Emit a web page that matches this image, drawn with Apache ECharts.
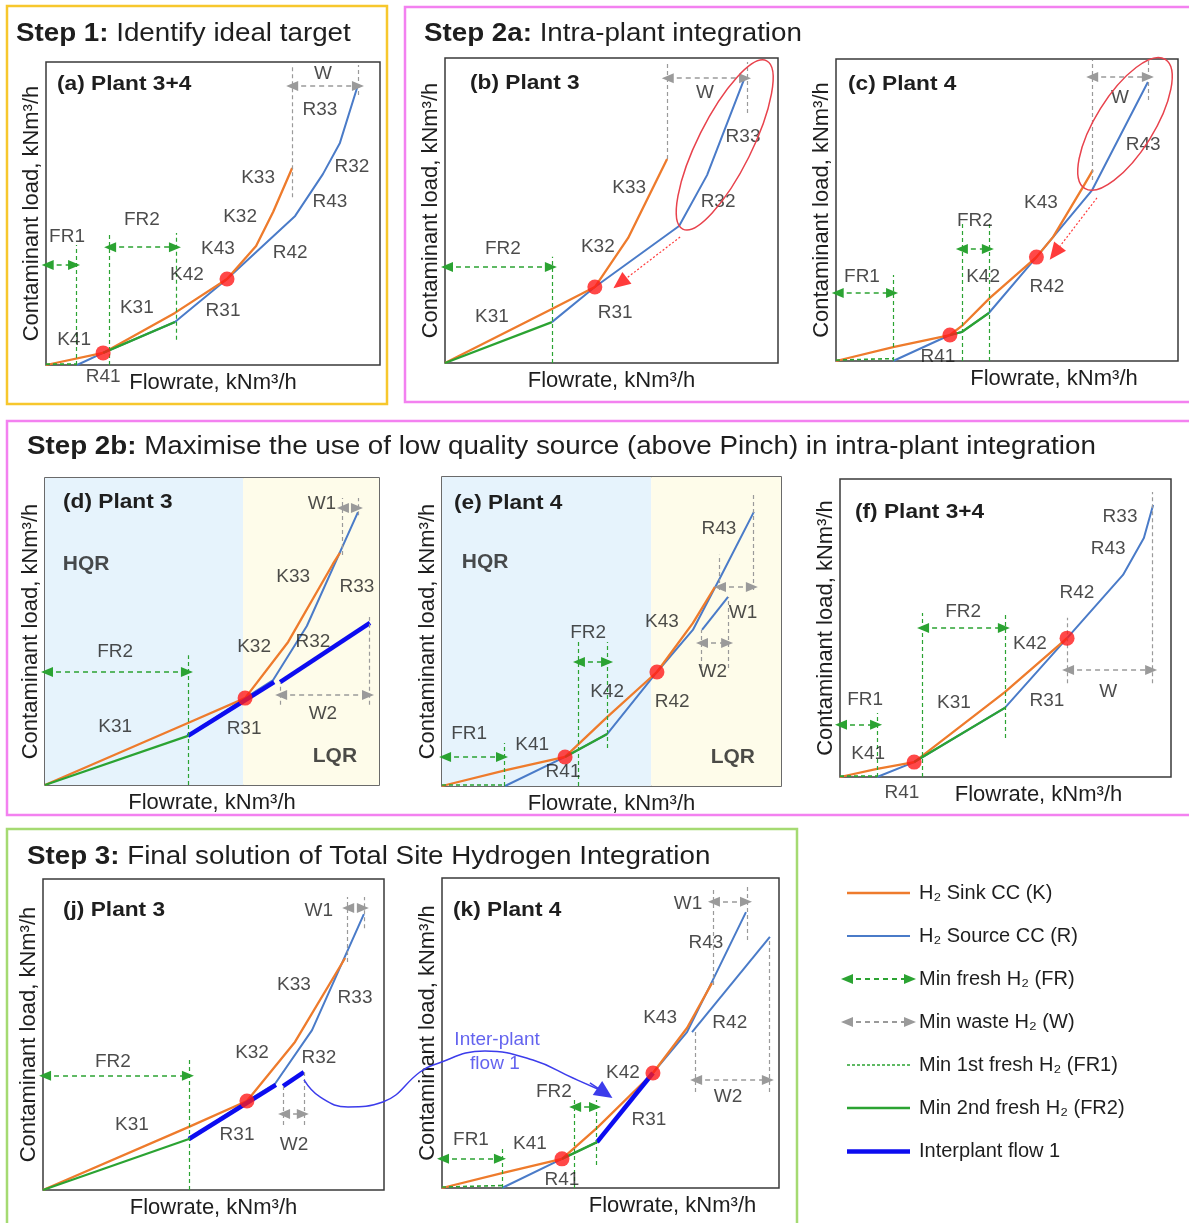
<!DOCTYPE html>
<html><head><meta charset="utf-8">
<script src="https://cdn.jsdelivr.net/npm/echarts@6/dist/echarts.min.js"></script>
<style>html,body{margin:0;padding:0;background:#fff}#main{width:1189px;height:1223px}</style>
</head><body><div id="main"></div>
<script>
// ---------------- DATA (axis units: 0-100 flowrate / contaminant load) ----------------
// Panel (a) Plant 3+4
const aSink = [[0,0],[17.1,4.0],[38.6,17.2],[54.2,28.4],[62.9,39.3],[68.0,50.5],[73.7,65.0]];
const aSource = [[9.3,0],[17.1,4.0],[38.6,14.2],[54.2,28.4],[74.6,49.2],[82.9,63.0],[88.0,73.3],[93.4,92.4]];
const aFR2 = [[17.1,4.0],[38.6,14.2]];
const aFR1 = [[0,0.3],[9.3,0.3]];
const aPinch = [[17.1,4.0],[54.2,28.4]];
const aFreshLines = [[9.0,0,39.6],[18.9,0,43.6],[38.9,8.3,43.6]];
const aFreshArrows = [[0.5,8.4,33.0],[19.2,38.6,38.9]];
const aWasteLines = [[73.7,55.4,99],[93.4,89.1,99]];
const aWasteArrows = [[73.7,93.4,92.1]];
const aLabels = [['K41',8.4,8.3],['R41',17.1,-4.0],['K31',27.2,18.8],['K42',42.2,29.7],['K43',51.5,38.3],['K32',58.1,48.8],['K33',63.5,61.7],['R31',53.0,17.8],['R42',73.1,37.0],['R43',85.0,53.8],['R32',91.6,65.3],['R33',82.0,84.2],['FR1',6.3,42.2],['FR2',28.7,47.9],['W',82.9,96.0]];
// Panel (b) Plant 3
const bSink = [[0,0],[32.1,17.7],[45.0,24.9],[55.0,41.0],[66.7,66.9]];
const bSource = [[32.1,13.4],[45.0,24.9],[70.3,44.9],[78.7,61.6],[90.1,93.8]];
const bFR2 = [[0,0],[32.1,13.4]];
const bPinch = [[45.0,24.9]];
const bFreshLines = [[32.1,0,34.8]];
const bFreshArrows = [[0.6,31.8,31.5]];
const bWasteLines = [[66.7,66.9,98.7],[90.7,82.0,98.7]];
const bWasteArrows = [[66.9,90.1,93.4]];
const bShift = [[70.6,41.3,52.6,26.2]];
const bEllipse = [84.0,71.5];
const bLabels = [['K31',14.1,15.1],['R31',51.1,16.4],['K32',45.9,38.0],['K33',55.3,57.4],['R32',82.0,52.8],['R33',89.5,74.1],['W',78.1,88.5],['FR2',17.4,37.4]];
// Panel (c) Plant 4
const cSink = [[0,0],[16.7,4.6],[33.3,8.6],[37.1,11.9],[45.0,20.9],[58.6,34.4],[63.5,41.1],[72.2,57.6],[75.1,63.2]];
const cSource = [[16.7,0],[33.3,8.6],[36.8,9.6],[44.7,15.9],[58.6,34.4],[74.9,56.6],[91.2,92.4]];
const cFR2 = [[33.3,8.6],[36.8,9.6],[44.7,15.9]];
const cFR1 = [[0,0.3],[16.7,0.8]];
const cPinch = [[33.3,8.6],[58.6,34.4]];
const cFreshLines = [[16.7,0,28.5],[36.8,0,45.7],[44.7,0,45.7]];
const cFreshArrows = [[0.5,16.4,22.5],[36.8,44.4,37.1]];
const cWasteLines = [[74.9,59.9,99.7],[91.2,86.4,99.7]];
const cWasteArrows = [[74.9,91.2,94.0]];
const cShift = [[76.3,54.0,64.0,35.8]];
const cEllipse = [84.5,78.5];
const cLabels = [['FR1',7.6,27.8],['FR2',40.6,46.4],['K42',43.0,27.8],['R42',61.7,24.5],['K43',59.9,52.3],['R43',89.8,71.5],['R41',29.8,1.3],['W',83.0,87.1]];
// Panel (d) Plant 3
const dSplit = 59.3;
const dSink = [[0,0],[42.8,20.2],[59.9,28.3],[72.8,46.6],[86.2,72.0],[88.3,75.6]];
const dSource = [[42.8,16.0],[59.9,28.3],[68.3,34.2],[78.4,51.8],[93.7,88.9]];
const dFR2 = [[0,0],[42.8,16.0]];
const dInterplant = [[[42.8,16.0],[68.6,33.5]],[[70.4,33.5],[97.3,52.8]]];
const dPinch = [[59.9,28.3]];
const dFreshLines = [[42.8,0,42.3]];
const dFreshArrows = [[0.6,42.5,36.8]];
const dWasteLines = [[88.9,74.9,93.5],[93.7,87.9,93.5],[70.4,26.1,33.5],[97.0,26.1,54.7]];
const dWasteArrows = [[89.2,93.4,90.2],[70.7,96.7,29.3]];
const dLabels = [['K31',21.0,18.9],['R31',59.6,18.2],['K32',62.6,44.9],['R32',80.2,46.6],['K33',74.3,67.7],['R33',93.4,64.5],['FR2',21.0,43.3],['W1',82.9,91.5],['W2',83.2,23.1]];
const dRegions = [['HQR',12.3,72.0],['LQR',86.8,9.4]];
// Panel (e) Plant 4
const eSplit = 61.7;
const eSink = [[0,0],[19.2,5.2],[36.3,9.4],[48.7,22.3],[63.4,36.9],[74.0,52.7],[80.5,64.4]];
const eSource = [[18.6,0],[36.3,9.4],[48.7,16.8],[63.4,36.9],[74.0,50.5],[82.0,67.3],[92.0,88.7]];
const eSource2 = [[76.7,50.5],[84.4,61.2]];
const eFR2 = [[36.3,9.4],[48.7,16.8]];
const eFR1 = [[0,0.3],[18.6,0.3]];
const ePinch = [[36.3,9.4],[63.4,36.9]];
const eFreshLines = [[18.3,0,13.9],[40.1,0,46.6],[48.7,12.3,46.6]];
const eFreshArrows = [[0.9,17.7,9.4],[40.4,48.7,40.1]];
const eWasteLines = [[81.7,63.4,74.8],[91.7,63.4,94.2],[76.4,38.2,50.5],[84.4,38.2,61.2]];
const eWasteArrows = [[82.0,91.4,64.4],[76.7,84.1,46.3]];
const eLabels = [['K41',26.6,13.3],['R41',35.7,4.5],['K42',48.7,30.4],['R42',67.9,27.2],['K43',64.9,53.1],['R43',81.7,83.2],['FR1',8.0,16.8],['FR2',43.1,49.5],['W1',88.8,56.0],['W2',79.9,36.9]];
const eRegions = [['HQR',12.7,72.5],['LQR',85.8,9.4]];
// Panel (f) Plant 3+4
const fSink = [[0,0],[11.2,2.7],[22.4,5.0],[49.8,28.5],[68.6,46.6]];
const fSource = [[11.2,0],[22.4,5.0],[49.8,23.2],[68.6,46.6],[85.5,67.8],[91.8,80.2],[94.6,91.3]];
const fFR2 = [[22.4,5.0],[49.8,23.2]];
const fFR1 = [[0,0.3],[11.2,0.3]];
const fPinch = [[22.4,5.0],[68.6,46.6]];
const fFreshLines = [[11.2,0,21.5],[24.8,0,55.0],[49.8,13.1,55.0]];
const fFreshArrows = [[0.3,10.9,17.5],[25.1,49.5,50.0]];
const fWasteLines = [[68.6,31.5,53.4],[94.3,31.5,95.6]];
const fWasteArrows = [[68.9,94.0,35.9]];
const fLabels = [['FR1',7.6,25.8],['FR2',37.2,55.4],['K41',8.5,7.7],['R41',18.7,-5.4],['K31',34.4,24.8],['R31',62.5,25.5],['K42',57.4,44.6],['R42',71.6,61.7],['R43',81.0,76.5],['R33',84.6,87.3],['W',81.0,28.5]];
// Panel (j) Plant 3
const jSink = [[0,0],[42.8,20.3],[59.8,28.6],[73.9,47.6],[88.6,74.6]];
const jSource = [[42.8,16.4],[59.8,28.6],[68.0,34.1],[78.9,51.4],[94.1,88.7]];
const jFR2 = [[0,0],[42.8,16.4]];
const jInterplant = [[[42.8,16.4],[68.3,33.8]],[[70.4,33.4],[76.5,37.9]]];
const jPinch = [[59.8,28.6]];
const jFreshLines = [[42.8,0,42.4]];
const jFreshArrows = [[0.6,42.5,36.7]];
const jWasteLines = [[89.2,73.3,94.2],[94.1,84.2,94.2],[70.4,20.9,33.4],[76.5,20.9,37.9]];
const jWasteArrows = [[89.5,93.8,90.7],[70.7,76.2,24.4]];
const jLabels = [['FR2',20.5,41.2],['K31',26.1,20.9],['R31',56.9,17.7],['K32',61.3,44.0],['R32',80.9,42.4],['K33',73.6,65.9],['R33',91.5,61.7],['W1',80.9,89.7],['W2',73.6,14.5]];
// Panel (k) Plant 4
const kSink = [[0,0],[17.8,4.8],[35.6,9.4],[46.0,19.4],[62.6,37.1],[72.7,51.6],[80.1,66.1]];
const kSource = [[17.8,0],[35.6,9.4],[46.0,14.8],[62.6,37.1],[72.7,50.3],[80.1,66.5],[90.2,89.0]];
const kSource2 = [[74.2,50.3],[97.3,81.0]];
const kFR2 = [[35.6,9.4],[46.0,14.8]];
const kFR1 = [[0,0.3],[17.8,0.8]];
const kInterplant = [[[46.0,14.8],[62.6,37.1]]];
const kPinch = [[35.6,9.4],[62.6,37.1]];
const kFreshLines = [[17.8,0,13.2],[39.2,0,28.4],[45.7,7.4,28.4]];
const kFreshArrows = [[0.3,17.2,9.4],[39.5,45.4,26.1]];
const kWasteLines = [[80.4,65.5,97.1],[90.5,80.0,97.1],[75.1,31.0,50.3],[97.0,31.0,80.6]];
const kWasteArrows = [[80.7,90.2,92.3],[75.4,96.7,34.8]];
const kLabels = [['FR1',8.6,15.5],['FR2',33.2,31.0],['K41',26.1,14.2],['R41',35.6,2.6],['K42',53.7,37.1],['R31',61.4,21.9],['K43',64.7,54.8],['R42',85.4,53.2],['R43',78.3,79.0],['W1',73.0,91.6],['W2',84.9,29.4]];
// Inter-plant flow 1 (own overlay scale spanning from plant 3 to plant 4)
const interFlowCurve = [[1.25,42.9],[6.25,18.6],[15.0,4.3],[25.9,11.4],[37.5,54.3],[41.6,64.3],[57.8,84.3],[72.8,71.4],[85.3,45.7],[93.75,28.6]];
const interFlowArrow = [[90.6,38.6,95.3,24.3]];
const interFlowText = [['Inter-plant',61.6,100],['flow 1',60.9,65.7]];
// Legend
const legendNames = ['H\u2082 Sink CC (K)','H\u2082 Source CC (R)','Min fresh H\u2082 (FR)','Min waste H\u2082 (W)','Min 1st fresh H\u2082 (FR1)','Min 2nd fresh H\u2082 (FR2)','Interplant flow 1'];

// ---------------- STYLE / LAYOUT ----------------
const FONT = '"Liberation Sans", Arial, Helvetica, sans-serif';
const TXT = '#1e1e1e';
const COL = {sink:'#EE7B2C', source:'#4A7BC8', green:'#2BA332', inter:'#0C0CF0', red:'#FF1A1A', grey:'#9A9A9A', ell:'#E8424C', flow:'#3C3CEB'};

const panels = [
 {left:46,top:62,right:380,bottom:365,title:'(a) Plant 3+4',tdx:11,tdy:22,xShift:0,
  sink:aSink,sources:[aSource],fr2:aFR2,fr1:aFR1,inter:[],pinch:aPinch,fl:aFreshLines,fa:aFreshArrows,wl:aWasteLines,wa:aWasteArrows,labels:aLabels},
 {left:445,top:58,right:778,bottom:363,title:'(b) Plant 3',tdx:25,tdy:25,xShift:0,
  sink:bSink,sources:[bSource],fr2:bFR2,fr1:null,inter:[],pinch:bPinch,fl:bFreshLines,fa:bFreshArrows,wl:bWasteLines,wa:bWasteArrows,labels:bLabels,shift:bShift,ell:{c:bEllipse,rx:94,ry:27,rot:63.5}},
 {left:836,top:59,right:1178,bottom:361,title:'(c) Plant 4',tdx:12,tdy:25,xShift:47,
  sink:cSink,sources:[cSource],fr2:cFR2,fr1:cFR1,inter:[],pinch:cPinch,fl:cFreshLines,fa:cFreshArrows,wl:cWasteLines,wa:cWasteArrows,labels:cLabels,shift:cShift,ell:{c:cEllipse,rx:76,ry:29,rot:58}},
 {left:45,top:478,right:379,bottom:785,title:'(d) Plant 3',tdx:18,tdy:24,xShift:0,split:dSplit,
  sink:dSink,sources:[dSource],fr2:dFR2,fr1:null,inter:dInterplant,pinch:dPinch,fl:dFreshLines,fa:dFreshArrows,wl:dWasteLines,wa:dWasteArrows,labels:dLabels,regions:dRegions},
 {left:442,top:477,right:781,bottom:786,title:'(e) Plant 4',tdx:12,tdy:26,xShift:0,split:eSplit,
  sink:eSink,sources:[eSource,eSource2],fr2:eFR2,fr1:eFR1,inter:[],pinch:ePinch,fl:eFreshLines,fa:eFreshArrows,wl:eWasteLines,wa:eWasteArrows,labels:eLabels,regions:eRegions},
 {left:840,top:479,right:1171,bottom:777,title:'(f) Plant 3+4',tdx:15,tdy:33,xShift:33,
  sink:fSink,sources:[fSource],fr2:fFR2,fr1:fFR1,inter:[],pinch:fPinch,fl:fFreshLines,fa:fFreshArrows,wl:fWasteLines,wa:fWasteArrows,labels:fLabels},
 {left:43,top:879,right:384,bottom:1190,title:'(j) Plant 3',tdx:20,tdy:31,xShift:0,
  sink:jSink,sources:[jSource],fr2:jFR2,fr1:null,inter:jInterplant,pinch:jPinch,fl:jFreshLines,fa:jFreshArrows,wl:jWasteLines,wa:jWasteArrows,labels:jLabels},
 {left:442,top:878,right:779,bottom:1188,title:'(k) Plant 4',tdx:11,tdy:32,xShift:62,
  sink:kSink,sources:[kSource,kSource2],fr2:kFR2,fr1:kFR1,inter:kInterplant,pinch:kPinch,fl:kFreshLines,fa:kFreshArrows,wl:kWasteLines,wa:kWasteArrows,labels:kLabels}
];

function curve(ax, data, color, width, type, z) {
  return Object.assign({type:'line', data:data, symbol:'none', silent:true, clip:false, z:z||2, animation:false,
    lineStyle:{color:color, width:width, type:type||'solid', cap:'butt', join:'round'}}, ax);
}
function mlines(ax, pairs, color, width, dash, sym, symSize) {
  return Object.assign({type:'line', data:[], silent:true, animation:false,
    markLine:{silent:true, animation:false, symbol:sym||['none','none'], symbolSize:symSize||8, label:{show:false},
      emphasis:{disabled:true}, lineStyle:{color:color, width:width, type:dash, opacity:1}, data:pairs}}, ax);
}
const vPairs = arr => arr.map(v => [{coord:[v[0],v[1]]},{coord:[v[0],v[2]]}]);
const hPairs = arr => arr.map(v => [{coord:[v[0],v[2]]},{coord:[v[1],v[2]]}]);
const sPairs = arr => arr.map(v => [{coord:[v[0],v[1]]},{coord:[v[2],v[3]]}]);
function labelSeries(ax, arr, extra) {
  return Object.assign({type:'scatter', silent:true, clip:false, z:8, animation:false, symbolSize:1,
    itemStyle:{color:'rgba(0,0,0,0)'},
    label:Object.assign({show:true, position:'inside', formatter:'{b}', fontSize:19, color:TXT, fontFamily:FONT, textBorderWidth:0}, extra||{}),
    data:arr.map(l => ({name:l[0], value:[l[1],l[2]]}))}, ax);
}

const grids=[], xAxes=[], yAxes=[], series=[];
const hidden = {axisLine:{show:false}, axisTick:{show:false}, axisLabel:{show:false}, splitLine:{show:false}};
panels.forEach((p,i) => {
  grids.push({left:p.left, top:p.top, width:p.right-p.left, height:p.bottom-p.top, show:true, borderColor:'#3a3a3a', borderWidth:1.5, backgroundColor:'rgba(0,0,0,0)'});
  xAxes.push(Object.assign({gridIndex:i, type:'value', min:0, max:100, name:'Flowrate, kNm\u00B3/h', nameLocation:'middle', nameGap:7,
    nameTextStyle:{fontSize:22, color:TXT, fontFamily:FONT, padding:[0,0,0,2*p.xShift]}}, hidden));
  yAxes.push(Object.assign({gridIndex:i, type:'value', min:0, max:100, name:'Contaminant load, kNm\u00B3/h', nameLocation:'middle', nameGap:3,
    nameTextStyle:{fontSize:22, color:TXT, fontFamily:FONT}}, hidden));
  const ax = {xAxisIndex:i, yAxisIndex:i};
  if (p.split != null) {
    series.push(Object.assign({type:'line', data:[], silent:true, z:0, markArea:{silent:true, z:0, data:[
      [{coord:[0,0], itemStyle:{color:'#E6F3FC'}},{coord:[p.split,100]}],
      [{coord:[p.split,0], itemStyle:{color:'#FEFCEA'}},{coord:[100,100]}]]}}, ax));
  }
  p.sources.forEach(s => series.push(curve(ax, s, COL.source, 2)));
  series.push(curve(ax, p.sink, COL.sink, 2.3));
  if (p.fr2) series.push(curve(ax, p.fr2, COL.green, 2.3, 'solid', 3));
  if (p.fr1) series.push(curve(ax, p.fr1, COL.green, 1.6, [4,3], 3));
  p.inter.forEach(s => series.push(curve(ax, s, COL.inter, 4.5, 'solid', 4)));
  series.push(mlines(ax, vPairs(p.fl), COL.green, 1.2, [4,3]));
  series.push(mlines(ax, hPairs(p.fa), COL.green, 1.5, [5,4], ['triangle','triangle'], [10,12]));
  series.push(mlines(ax, vPairs(p.wl), COL.grey, 1.2, [4,3]));
  series.push(mlines(ax, hPairs(p.wa), COL.grey, 1.5, [5,4], ['triangle','triangle'], [10,12]));
  if (p.shift) series.push(mlines(ax, sPairs(p.shift), '#FF3B3B', 1.2, [2,2], ['none','triangle'], [15,17]));
  series.push(Object.assign({type:'scatter', data:p.pinch, symbolSize:15, itemStyle:{color:COL.red}, z:7, silent:true, animation:false}, ax));
  series.push(labelSeries(ax, p.labels));
  if (p.regions) series.push(labelSeries(ax, p.regions, {fontWeight:'bold', fontSize:21}));
});

// Legend grid (index 8)
grids.push({left:847, top:871.5, width:63, height:301, show:false});
xAxes.push(Object.assign({gridIndex:8, type:'value', min:0, max:1}, hidden));
yAxes.push({gridIndex:8, type:'category', data:legendNames, inverse:true, position:'right',
  axisLine:{show:false}, axisTick:{show:false}, splitLine:{show:false},
  axisLabel:{show:true, interval:0, margin:9, fontSize:20, color:TXT, fontFamily:FONT}});
const axL = {xAxisIndex:8, yAxisIndex:8};
const row = i => [[{coord:[0,i]},{coord:[1,i]}]];
series.push(mlines(axL, row(0), COL.sink, 2.3, 'solid'));
series.push(mlines(axL, row(1), COL.source, 2, 'solid'));
series.push(mlines(axL, row(2), COL.green, 2, [5,4], ['triangle','triangle'], [10,12]));
series.push(mlines(axL, row(3), COL.grey, 2, [5,4], ['triangle','triangle'], [10,12]));
series.push(mlines(axL, row(4), COL.green, 1.6, [3,2]));
series.push(mlines(axL, row(5), COL.green, 2.3, 'solid'));
series.push(mlines(axL, row(6), COL.inter, 4.5, 'solid'));

// Inter-plant flow overlay grid (index 9)
grids.push({left:300, top:1040, width:320, height:70, show:false});
xAxes.push(Object.assign({gridIndex:9, type:'value', min:0, max:100}, hidden));
yAxes.push(Object.assign({gridIndex:9, type:'value', min:0, max:100}, hidden));
const axF = {xAxisIndex:9, yAxisIndex:9};
const flow = curve(axF, interFlowCurve, COL.flow, 1.5, 'solid', 5);
flow.smooth = 0.45;
series.push(flow);
series.push(mlines(axF, sPairs(interFlowArrow), COL.flow, 1.5, 'solid', ['none','triangle'], [17,18]));
series.push(labelSeries(axF, interFlowText, {color:COL.flow, fontSize:19}));

const chart = echarts.init(document.getElementById('main'));
chart.setOption({animation:false, textStyle:{fontFamily:FONT}, grid:grids, xAxis:xAxes, yAxis:yAxes, series:series});

// ---------------- graphic annotations ----------------
const g = [];
const box = (x,y,w,h,c) => g.push({type:'rect', silent:true, z:-10, shape:{x:x,y:y,width:w,height:h}, style:{fill:'none', stroke:c, lineWidth:2.5}});
box(7,6,380,398,'#F7C72C');
box(405,7,790,395,'#F381F0');
box(7,421,1190,394,'#F381F0');
box(7,829,790,400,'#A5DA72');
const head = (x,y,b,t) => g.push({type:'text', silent:true, x:x, y:y, scaleX:1.11, style:{text:'{b|'+b+'}'+t, fontSize:25, fontFamily:FONT, fill:TXT,
  textVerticalAlign:'middle', verticalAlign:'middle', rich:{b:{fontWeight:'bold', fontSize:25, fontFamily:FONT, fill:TXT}}}});
head(16,34,'Step 1:',' Identify ideal target');
head(424,34,'Step 2a:',' Intra-plant integration');
head(27,447,'Step 2b:',' Maximise the use of low quality source (above Pinch) in intra-plant integration');
head(27,857,'Step 3:',' Final solution of Total Site Hydrogen Integration');
panels.forEach((p,i) => {
  g.push({type:'text', silent:true, x:p.left+p.tdx, y:p.top+p.tdy, scaleX:1.08, style:{text:p.title, fontSize:21, fontWeight:'bold', fontFamily:FONT, fill:TXT, textVerticalAlign:'middle', verticalAlign:'middle'}});
  if (p.ell) {
    const c = chart.convertToPixel({gridIndex:i}, p.ell.c);
    g.push({type:'ellipse', silent:true, x:c[0], y:c[1], rotation:p.ell.rot*Math.PI/180, shape:{cx:0, cy:0, rx:p.ell.rx, ry:p.ell.ry}, style:{fill:'none', stroke:COL.ell, lineWidth:1.5}, z:20});
  }
});
chart.setOption({graphic:g});
</script></body></html>
